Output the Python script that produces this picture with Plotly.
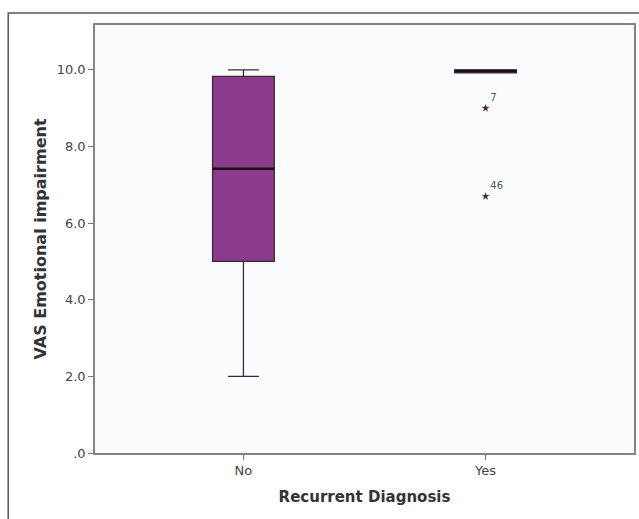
import plotly.graph_objects as go

categories = ["No", "Yes"]
x_pos = [0, 1]
q1 = [5.0, 9.92]
median = [7.42, 9.97]
q3 = [9.83, 10.0]
lower_whisker = [2.0, 9.92]
upper_whisker = [10.0, 10.0]

outlier_cat = [1, 1]
outlier_vals = [9.0, 6.7]
outlier_ids = ["7", "46"]

y_tickvals = [0, 2, 4, 6, 8, 10]
y_ticktext = [".0", "2.0", "4.0", "6.0", "8.0", "10.0"]

BOX_W = 0.255
FILL = "#8c3a8a"
EDGE = "#3a2a36"
FONT = "DejaVu Sans"

fig = go.Figure()
fig.add_trace(go.Box(
    x=x_pos, q1=q1, median=median, q3=q3,
    lowerfence=lower_whisker, upperfence=upper_whisker,
    width=BOX_W, whiskerwidth=0.5,
    fillcolor=FILL, line=dict(color=EDGE, width=1.3),
    boxpoints=False, showlegend=False, hoverinfo="skip",
))
for xi, m in zip(x_pos, median):
    fig.add_trace(go.Scatter(
        x=[xi - BOX_W / 2, xi + BOX_W / 2], y=[m, m], mode="lines",
        line=dict(color="#1a0f18", width=2.5), showlegend=False, hoverinfo="skip",
    ))
fig.add_trace(go.Scatter(
    x=outlier_cat, y=outlier_vals, mode="markers+text",
    text=outlier_ids, textposition="top right",
    textfont=dict(family=FONT, size=10, color="#555"),
    marker=dict(symbol="star", size=6, color="#4a2a3a"),
    showlegend=False, hoverinfo="skip",
))

fig.add_shape(type="rect", xref="paper", yref="paper",
              x0=-0.161, x1=1.02, y0=-0.3, y1=1.028,
              line=dict(color="#555555", width=1.5), layer="below")

fig.update_layout(
    width=639, height=519,
    margin=dict(l=95, r=3, t=25, b=66),
    paper_bgcolor="white", plot_bgcolor="#fbfcfe",
    font=dict(family=FONT, color="#444"),
    xaxis=dict(
        range=[-0.613, 1.613], tickvals=x_pos, ticktext=categories,
        ticks="outside", ticklen=5, tickcolor="#777", tickfont=dict(size=13, color="#444"),
        showline=True, linecolor="#8a817f", linewidth=1.5, mirror=True,
        showgrid=False, zeroline=False,
        title=dict(text="<b>Recurrent Diagnosis</b>", font=dict(size=15, color="#333"), standoff=14),
    ),
    yaxis=dict(
        range=[0, 11.17], tickvals=y_tickvals, ticktext=y_ticktext,
        ticks="outside", ticklen=5, tickcolor="#777", tickfont=dict(size=13, color="#444"),
        showline=True, linecolor="#8a817f", linewidth=1.5, mirror=True,
        showgrid=False, zeroline=False,
        title=dict(text="<b>VAS Emotional impairment</b>", font=dict(size=16, color="#333"), standoff=6),
    ),
)

fig.write_html(
    "out.html",
    config={"displayModeBar": False},
    post_script="document.body.style.margin='0';document.body.style.overflow='hidden';",
)
